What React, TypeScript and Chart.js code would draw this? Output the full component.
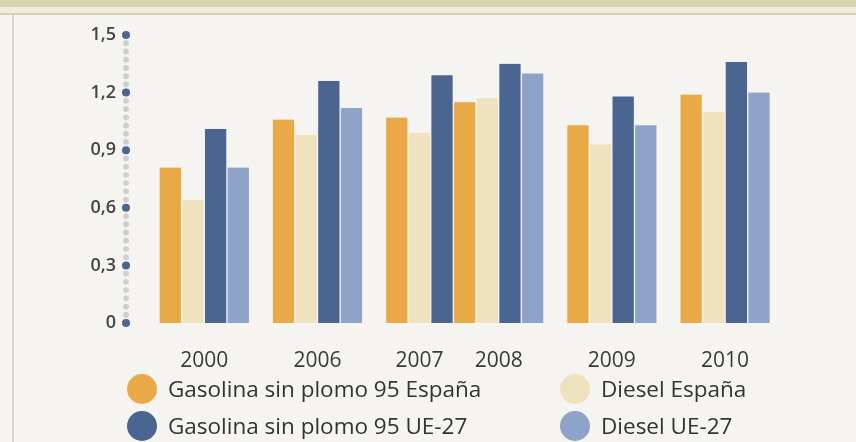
import React, { useEffect, useRef } from "react";
import { Chart, registerables } from "chart.js";

Chart.register(...registerables);

// ---- data ----
const years = ["2000", "2006", "2007", "2008", "2009", "2010"];
// position of each year group along the x axis, in bar-slot units (2007 has only 3 bars)
const groupSlots = [2, 7, 11.5, 15, 20, 25];

const gasolinaEspana = [0.81, 1.06, 1.07, 1.15, 1.03, 1.19];
const dieselEspana = [0.64, 0.98, 0.99, 1.17, 0.93, 1.1];
const gasolinaUE = [1.01, 1.26, 1.29, 1.35, 1.18, 1.36];
const dieselUE = [0.81, 1.12, null, 1.3, 1.03, 1.2];

const seriesLabels = [
  "Gasolina sin plomo 95 España",
  "Diesel España",
  "Gasolina sin plomo 95 UE-27",
  "Diesel UE-27",
];
const seriesValues = [gasolinaEspana, dieselEspana, gasolinaUE, dieselUE];
const seriesColors = ["#EAA947", "#EFE2BF", "#4A6590", "#8EA3C7"];

const yTickValues = [0, 0.3, 0.6, 0.9, 1.2, 1.5];

const BG = "#F5F4F0";
const FONT = "'Open Sans', 'DejaVu Sans', sans-serif";

const axisDots = {
  id: "axisDots",
  afterDraw(chart: any) {
    const y = chart.scales.y;
    const ctx = chart.ctx;
    const x = chart.chartArea.left - 2;
    ctx.save();
    const ticks = y.ticks;
    for (let i = 0; i < ticks.length - 1; i++) {
      const p0 = y.getPixelForValue(ticks[i].value);
      const p1 = y.getPixelForValue(ticks[i + 1].value);
      for (let k = 1; k <= 6; k++) {
        const py = p0 + ((p1 - p0) * k) / 7;
        ctx.beginPath();
        ctx.fillStyle = "#CFCFCF";
        ctx.arc(x, py, 2.9, 0, Math.PI * 2);
        ctx.fill();
      }
    }
    for (const t of ticks) {
      const py = y.getPixelForValue(t.value);
      ctx.beginPath();
      ctx.fillStyle = "#4A6590";
      ctx.arc(x, py, 4, 0, Math.PI * 2);
      ctx.fill();
    }
    ctx.restore();
  },
};

export default function App() {
  const canvasRef = useRef<HTMLCanvasElement | null>(null);

  useEffect(() => {
    document.body.style.margin = "0";
    const canvas = canvasRef.current;
    if (!canvas) return;
    const chart = new Chart(canvas, {
      type: "bar",
      data: {
        datasets: seriesValues.map((vals, i) => ({
          label: seriesLabels[i],
          data: vals.map((v, j) => ({ x: groupSlots[j], y: v })),
          backgroundColor: seriesColors[i],
          borderColor: BG,
          borderWidth: { left: 1, right: 1, top: 0, bottom: 0 },
          borderSkipped: false,
          barThickness: 22.63,
        })),
      },
      options: {
        responsive: false,
        animation: false,
        skipNull: true,
        layout: { padding: { left: 0, right: 63, top: 35, bottom: 0 } },
        plugins: {
          legend: { display: false },
          tooltip: { enabled: false },
        },
        scales: {
          x: {
            type: "linear",
            offset: false,
            min: -1.37,
            max: 28,
            grid: { display: false, drawTicks: false, offset: false },
            border: { display: false },
            afterBuildTicks: (scale: any) => {
              scale.ticks = groupSlots.map((v) => ({ value: v }));
            },
            afterFit: (scale: any) => {
              scale.height = 119;
            },
            ticks: {
              autoSkip: false,
              maxRotation: 0,
              padding: 25,
              color: "#3A3A3A",
              font: { family: FONT, size: 21 },
              callback: (_v: any, i: number) => years[i],
            },
          },
          y: {
            min: 0,
            max: 1.5,
            grid: { display: false, drawTicks: false },
            border: { display: false },
            afterBuildTicks: (scale: any) => {
              scale.ticks = yTickValues.map((v) => ({ value: v }));
            },
            afterFit: (scale: any) => {
              scale.width = 128;
            },
            ticks: {
              padding: 12,
              color: "#444444",
              font: { family: FONT, size: 18, weight: "600" },
              callback: (v: any) =>
                Number(v) === 0 ? "0" : Number(v).toFixed(1).replace(".", ","),
            },
          },
        },
      } as any,
      plugins: [axisDots],
    });
    return () => chart.destroy();
  }, []);

  const legendOrder = [0, 2, 1, 3];

  return (
    <div
      style={{
        position: "fixed",
        left: 0,
        top: 0,
        width: 856,
        height: 442,
        background: BG,
        overflow: "hidden",
      }}
    >
      <div style={{ position: "absolute", left: 0, top: 0, width: 856, height: 7, background: "#D8D3B2" }} />
      <div style={{ position: "absolute", left: 0, top: 7, width: 856, height: 6, background: "#EFEDE0" }} />
      <div style={{ position: "absolute", left: 0, top: 13, width: 856, height: 2, background: "#D5D0B0" }} />
      <div style={{ position: "absolute", left: 12, top: 15, width: 2, height: 427, background: "#D9D5C8" }} />
      <canvas
        ref={canvasRef}
        width={856}
        height={442}
        style={{ position: "absolute", left: 0, top: 0, display: "block" }}
      />
      <div
        style={{
          position: "absolute",
          left: 127,
          top: 374,
          display: "grid",
          gridTemplateColumns: "433px auto",
          gridTemplateRows: "37px 37px",
          gridAutoFlow: "column",
          fontFamily: FONT,
          fontSize: 22.5,
          color: "#333333",
        }}
      >
        {legendOrder.map((i) => (
          <div key={i} style={{ display: "flex", alignItems: "center", height: 30 }}>
            <span
              style={{
                display: "inline-block",
                flex: "0 0 30px",
                width: 30,
                height: 30,
                borderRadius: "50%",
                background: seriesColors[i],
                marginRight: 11,
              }}
            />
            <span style={{ whiteSpace: "nowrap", lineHeight: "30px" }}>{seriesLabels[i]}</span>
          </div>
        ))}
      </div>
    </div>
  );
}
